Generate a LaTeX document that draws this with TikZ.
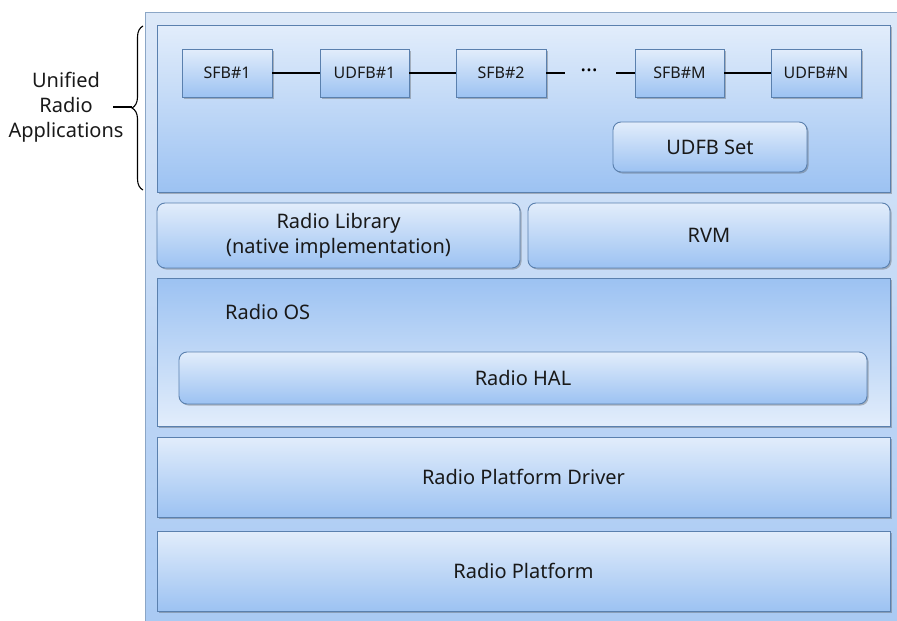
\documentclass[tikz,border=0pt]{standalone}
\usepackage{fontspec}
\setmainfont{Noto Sans}
\usetikzlibrary{shadows,decorations.pathreplacing}
\definecolor{bord}{HTML}{5A80AE}
\definecolor{topc}{HTML}{E2EDFB}
\definecolor{botc}{HTML}{9CC2F2}
\definecolor{outerc}{HTML}{DCE8F8}
\begin{document}
\begin{tikzpicture}[x=1pt,y=-1pt,
  box/.style={draw=bord, line width=0.9pt, shading=axis, top color=topc, bottom color=botc,
     drop shadow={shadow xshift=1.5pt, shadow yshift=-1.5pt, opacity=0.35, fill=black!70},
     inner sep=0pt, align=center, text=black!90, font=\fontsize{20}{25}\selectfont},
  rbox/.style={box, rounded corners=8pt},
  sbox/.style={box, font=\fontsize{16}{19}\selectfont, minimum height=48pt},
  link/.style={line width=1.6pt, black}]
\useasboundingbox (0,0) rectangle (897,621);
% outer panel
\node[draw=bord!70, line width=0.8pt, shading=axis, top color=outerc, bottom color=botc!80!outerc,
  minimum width=760pt, minimum height=615pt, inner sep=0pt] (outer) at (525,319.5) {};
% top application layer
\node[box, minimum width=733pt, minimum height=167pt] (apps) at (523.5,108.5) {};
\node[sbox, minimum width=90pt] (sfb1) at (227,73) {SFB\#1};
\node[sbox, minimum width=89pt] (udfb1) at (364.5,73) {UDFB\#1};
\node[sbox, minimum width=90pt] (sfb2) at (501,73) {SFB\#2};
\node[sbox, minimum width=89pt] (sfbm) at (679.5,73) {SFB\#M};
\node[sbox, minimum width=90pt] (udfbn) at (816,73) {UDFB\#N};
\node[font=\fontsize{22}{22}\selectfont\bfseries, inner sep=0pt] (dots) at (589,70) {…};
\coordinate (c1) at (565,73);
\coordinate (c2) at (616,73);
\draw[link] (sfb1) -- (udfb1);
\draw[link] (udfb1) -- (sfb2);
\draw[link] (sfb2.east) -- (c1);
\draw[link] (c2) -- (sfbm.west);
\draw[link] (sfbm) -- (udfbn);
\node[rbox, minimum width=194pt, minimum height=50pt] (udfbset) at (710,147) {UDFB Set};
% library / RVM
\node[rbox, minimum width=363pt, minimum height=65pt] (lib) at (338.5,235.5) {Radio Library\\(native implementation)};
\node[rbox, minimum width=362pt, minimum height=65pt] (rvm) at (709,235.5) {RVM};
% Radio OS
\node[box, top color=botc, bottom color=topc, minimum width=733pt, minimum height=148pt] (os) at (523.5,352) {};
\node[font=\fontsize{20}{25}\selectfont, text=black!90, anchor=west, inner sep=0pt] (oslabel) at (225,312) {Radio OS};
\node[rbox, minimum width=688pt, minimum height=52pt] (hal) at (523,378) {Radio HAL};
% driver / platform
\node[box, minimum width=733pt, minimum height=80pt] (drv) at (523.5,477) {Radio Platform Driver};
\node[box, minimum width=733pt, minimum height=80pt] (plat) at (523.5,571) {Radio Platform};
% brace and label
\coordinate (bb) at (143,190);
\coordinate (bt) at (143,26);
\draw[line width=1.1pt, decorate, decoration={brace, amplitude=11pt}] (bb) -- (bt);
\coordinate (tip) at (132,107);
\node[align=center, font=\fontsize{20}{25}\selectfont, text=black!90, inner sep=0pt] (ura) at (66,107) {Unified\\Radio\\Applications};
\draw[line width=1.1pt] (tip) -- (ura.east -| 113,0);
\end{tikzpicture}
\end{document}
